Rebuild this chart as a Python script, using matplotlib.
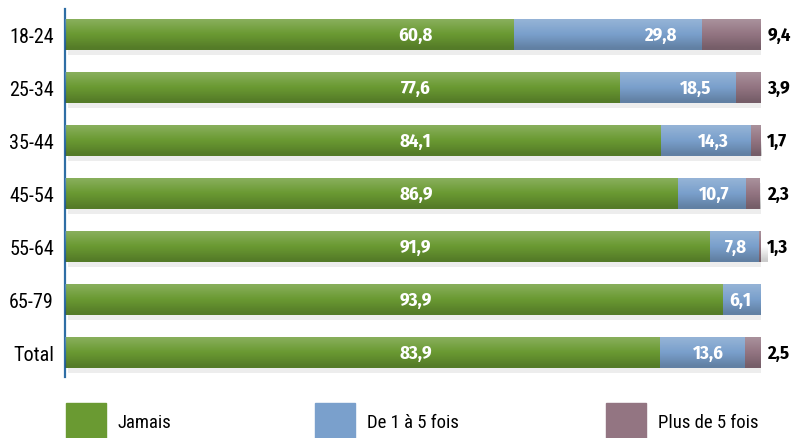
import numpy as np
import matplotlib
matplotlib.use("Agg")
import matplotlib.pyplot as plt
from matplotlib.patches import Rectangle

# age groups and shares (%)
groups = ["18-24", "25-34", "35-44", "45-54", "55-64", "65-79", "Total"]
jamais = [60.8, 77.6, 84.1, 86.9, 91.9, 93.9, 83.9]
de1a5 = [29.8, 18.5, 14.3, 10.7, 7.8, 6.1, 13.6]
plus5 = [9.4, 3.9, 1.7, 2.3, 1.3, 0.0, 2.5]
series_names = ["Jamais", "De 1 à 5 fois", "Plus de 5 fois"]

colors = ["#6a9a32", "#7aa0cc", "#937582"]
label_font = ["Roboto Condensed", "Archivo Narrow", "DejaVu Sans"]
value_font = ["Fira Sans Condensed", "PT Sans Narrow", "Roboto Condensed", "DejaVu Sans"]
plt.rcParams["font.family"] = label_font

XMIN = -10.5  # the bars start a bit left of zero, like in the original

fig = plt.figure(figsize=(7.93, 4.39), dpi=100)
ax = fig.add_axes([65 / 793, 1 - 378 / 439, 696 / 793, 368 / 439])

y = np.arange(len(groups))
h = 0.585
totals = np.array(jamais) + np.array(de1a5) + np.array(plus5)

# soft shadow under each bar
for yi, tot in zip(y, totals):
    ax.add_patch(Rectangle((XMIN + 0.4, yi - h / 2 + 0.09), tot - XMIN, h,
                           color="#000000", alpha=0.07, lw=0, zorder=1))

left = np.zeros(len(groups))
for i, (vals, col) in enumerate(zip([jamais, de1a5, plus5], colors)):
    vals = np.array(vals)
    if i == 0:
        ax.barh(y, vals - XMIN, left=XMIN, height=h, color=col, edgecolor="none", zorder=2)
    else:
        ax.barh(y, vals, left=left, height=h, color=col, edgecolor="none", zorder=2)
    left += vals

# light-to-dark shading overlay on each bar
t = np.linspace(0, 1, 40)
grad = np.zeros((40, 1, 4))
grad[:, 0, :3] = np.where(t[:, None] < 0.5, 1.0, 0.0)[:, :1]
grad[:, 0, 3] = np.clip(np.abs(t - 0.5) * 0.45, 0, 0.2)
for yi, tot in zip(y, totals):
    im = ax.imshow(grad, extent=(XMIN, tot, yi + h / 2, yi - h / 2), aspect="auto",
                   interpolation="bilinear", zorder=3)
    im.set_clip_path(Rectangle((XMIN, yi - h / 2), tot - XMIN, h, transform=ax.transData))

# value labels
for yi, a, b, c in zip(y, jamais, de1a5, plus5):
    ax.text(45.2, yi, f"{a:.1f}".replace(".", ","), ha="center", va="center",
            color="white", fontsize=13.5, fontweight="bold", family=value_font, zorder=4)
    ax.text(a + b - min(b * 0.25, 4), yi, f"{b:.1f}".replace(".", ","), ha="right",
            va="center", color="white", fontsize=13.5, fontweight="bold",
            family=value_font, zorder=4)
    if c > 0:
        ax.text(101.0, yi, f"{c:.1f}".replace(".", ","), ha="left", va="center",
                color="black", fontsize=13.5, fontweight="bold", family=value_font, zorder=4)

ax.set_xlim(XMIN, 100)
ax.set_ylim(6.462, -0.481)
ax.set_yticks(y)
ax.set_yticklabels(groups, fontsize=14.5)
ax.tick_params(axis="y", length=0, pad=8)
ax.set_xticks([])
for s in ["top", "right", "bottom"]:
    ax.spines[s].set_visible(False)
ax.spines["left"].set_color("#2f6ea5")
ax.spines["left"].set_linewidth(1.6)
ax.patch.set_alpha(0)

# legend drawn in figure pixels
leg_x = [66, 315, 606]
for lx, name, col in zip(leg_x, series_names, colors):
    fig.patches.append(Rectangle((lx / 793, 0), 40 / 793, 35 / 439, color=col,
                                 transform=fig.transFigure, figure=fig))
    fig.text((lx + 52) / 793, 1 - 423 / 439, name, ha="left", va="center",
             fontsize=13.5)

fig.savefig("out.png", dpi=100)
